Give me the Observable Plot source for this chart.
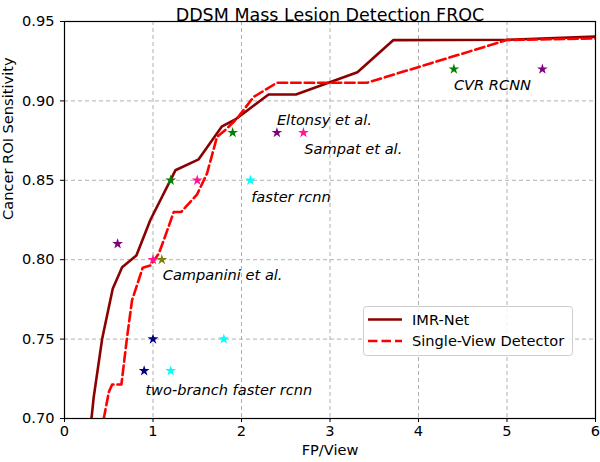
<!DOCTYPE html>
<html>
<head>
<meta charset="utf-8">
<script src="https://cdn.jsdelivr.net/npm/d3@7"></script>
<script src="https://cdn.jsdelivr.net/npm/@observablehq/plot@0.6"></script>
<style>
  html, body { margin: 0; padding: 0; background: white; }
  svg { display: block; }
</style>
</head>
<body>
<div id="chart"></div>
<script>
const imrX = [0.305, 0.33, 0.425, 0.545, 0.651, 0.812, 0.97, 1.253, 1.516, 1.78, 1.93, 2.306, 2.615, 3.31, 3.717, 5.0, 6.0];
const imrY = [0.700, 0.7134, 0.750, 0.7817, 0.7953, 0.8027, 0.825, 0.8563, 0.8632, 0.884, 0.8883, 0.904, 0.904, 0.918, 0.9383, 0.9385, 0.9405];

const svdX = [0.444, 0.50, 0.538, 0.643, 0.707, 0.763, 0.884, 0.971, 1.065, 1.12, 1.234, 1.317, 1.497, 1.61, 1.723, 1.836, 1.949, 2.137, 2.40, 3.416, 4.997, 6.0];
const svdY = [0.700, 0.7165, 0.7214, 0.7214, 0.7512, 0.7744, 0.795, 0.7964, 0.8038, 0.812, 0.830, 0.830, 0.841, 0.8542, 0.8773, 0.8826, 0.8889, 0.9025, 0.9114, 0.9114, 0.9383, 0.9393];

const starX = [0.6, 1.0, 1.1, 1.0, 0.9, 1.8, 1.2, 1.2, 1.5, 2.1, 1.9, 2.4, 2.7, 4.4, 5.4];
const starY = [0.81, 0.80, 0.80, 0.75, 0.73, 0.75, 0.73, 0.85, 0.85, 0.85, 0.88, 0.88, 0.88, 0.92, 0.92];
const starColor = ["#800080", "#ff1493", "#808000", "#000080", "#000080", "#00ffff", "#00ffff", "#008000", "#ff1493", "#00ffff", "#008000", "#800080", "#ff1493", "#008000", "#800080"];

const labelText = ["Eltonsy et al.", "Sampat et al.", "faster rcnn", "Campanini et al.", "two-branch faster rcnn", "CVR RCNN"];
const labelX = [2.4, 2.71, 2.11, 1.11, 0.914, 4.4];
const labelY = [0.888, 0.8696, 0.8393, 0.790, 0.7176, 0.910];

const xTicks = [0, 1, 2, 3, 4, 5, 6];
const yTicks = [0.70, 0.75, 0.80, 0.85, 0.90, 0.95];

const seriesNames = ["IMR-Net", "Single-View Detector"];
const seriesColors = ["#8b0000", "#ff0000"];

const imr = imrX.map((x, i) => ({x, y: imrY[i]}));
const svd = svdX.map((x, i) => ({x, y: svdY[i]}));
const stars = starX.map((x, i) => ({x, y: starY[i], c: starColor[i]}));
const labels = labelText.map((t, i) => ({t, x: labelX[i], y: labelY[i]}));

const font = "DejaVu Sans, sans-serif";
const fs = 14.6;

const chart = Plot.plot({
  width: 600,
  height: 462,
  marginLeft: 64,
  marginRight: 5,
  marginTop: 21,
  marginBottom: 44,
  style: {fontFamily: font, fontSize: fs + "px", color: "black", background: "white"},
  x: {domain: [0, 6]},
  y: {domain: [0.70, 0.95]},
  marks: [
    Plot.gridX(xTicks.slice(1, -1), {stroke: "#b0b0b0", strokeOpacity: 1, strokeDasharray: "4,3", strokeWidth: 1}),
    Plot.gridY(yTicks.slice(1, -1), {stroke: "#b0b0b0", strokeOpacity: 1, strokeDasharray: "4,3", strokeWidth: 1}),
    Plot.line(imr, {x: "x", y: "y", stroke: seriesColors[0], strokeWidth: 2.6, clip: true}),
    Plot.line(svd, {x: "x", y: "y", stroke: seriesColors[1], strokeWidth: 2.6, strokeDasharray: "9.5,4", clip: true}),
    Plot.dot(stars, {x: "x", y: "y", fill: "c", stroke: null, symbol: "star", r: 3.4}),
    Plot.text(labels, {x: "x", y: "y", text: "t", textAnchor: "start", fontStyle: "italic", fontSize: fs, fill: "black"}),
    Plot.axisX(xTicks, {tickSize: 4, tickPadding: 3, fontSize: fs, label: null, tickFormat: d => String(d)}),
    Plot.axisY(yTicks, {tickSize: 4, tickPadding: 6, fontSize: fs, label: null, tickFormat: d => d.toFixed(2)}),
    Plot.frame({stroke: "black", strokeWidth: 1.2}),
    Plot.text(["DDSM Mass Lesion Detection FROC"], {frameAnchor: "top", dy: -12.5, fontSize: 17.5, fill: "black"}),
    Plot.text(["FP/View"], {frameAnchor: "bottom", dy: 36, fontSize: fs, fill: "black"}),
    Plot.text(["Cancer ROI Sensitivity"], {frameAnchor: "left", dx: -56, rotate: -90, fontSize: fs, fill: "black"})
  ]
});

// Legend (matplotlib-like box)
const svg = d3.select(chart);
const lg = svg.append("g").attr("font-family", font).attr("font-size", fs).attr("text-anchor", "start");
lg.append("rect").attr("x", 363.5).attr("y", 306.5).attr("width", 209).attr("height", 49)
  .attr("rx", 3).attr("fill", "white").attr("fill-opacity", 0.85).attr("stroke", "#cccccc");
seriesNames.forEach((name, i) => {
  const yy = 319.5 + i * 21.5;
  lg.append("line").attr("x1", 368).attr("x2", 402).attr("y1", yy).attr("y2", yy)
    .attr("stroke", seriesColors[i]).attr("stroke-width", 2.6)
    .attr("stroke-dasharray", i === 1 ? "9.5,4" : null);
  lg.append("text").attr("x", 412).attr("y", yy).attr("dy", "0.35em").attr("fill", "black")
    .attr("text-anchor", "start").text(name);
});

document.getElementById("chart").appendChild(chart);
</script>
</body>
</html>
